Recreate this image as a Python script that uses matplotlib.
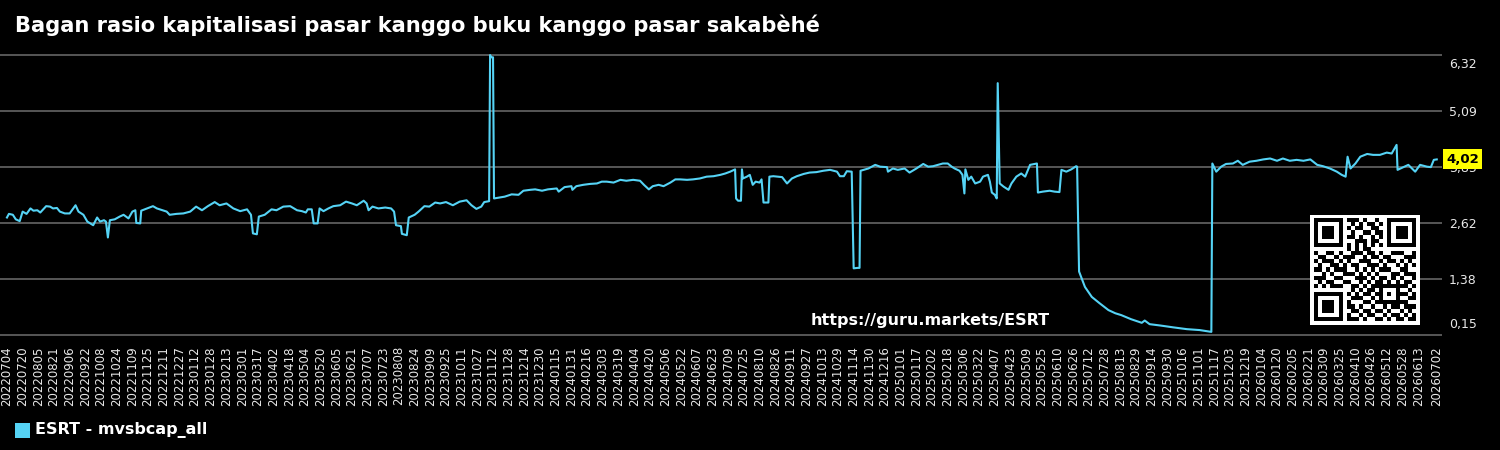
# Market cap to book ratio chart (ESRT) - recreation
import numpy as np
import pandas as pd
import matplotlib
matplotlib.use("Agg")
import matplotlib.pyplot as plt
import matplotlib.transforms as mtransforms
from matplotlib.patches import Rectangle

# --- data ---
start_date = pd.Timestamp("2022-07-04")
end_date = pd.Timestamp("2026-07-02")

# days since start_date
day_offset = [
    0, 2, 6, 9, 13, 16, 20, 24, 27, 31,
    34, 40, 44, 47, 51, 54, 59, 64, 70, 73,
    78, 82, 88, 92, 95, 99, 101, 103, 105, 110,
    115, 119, 124, 128, 131, 132, 136, 137, 143, 149,
    153, 160, 163, 166, 173, 180, 187, 193, 199, 205,
    212, 217, 224, 231, 238, 245, 249, 251, 255, 257,
    263, 270, 275, 282, 289, 296, 301, 305, 307, 311,
    313, 317, 319, 323, 328, 333, 340, 346, 352, 357,
    364, 367, 369, 373, 379, 386, 392, 395, 397, 402,
    403, 408, 410, 416, 420, 426, 431, 437, 442, 448,
    455, 462, 469, 474, 479, 484, 487, 492, 493, 494,
    496, 497, 508, 515, 522, 527, 534, 539, 546, 552,
    561, 563, 569, 576, 577, 581, 588, 595, 602, 607,
    612, 619, 626, 632, 639, 646, 650, 655, 659, 665,
    670, 677, 682, 687, 694, 700, 707, 714, 721, 728,
    733, 738, 743, 744, 746, 749, 750, 751, 755, 758,
    761, 764, 768, 770, 772, 777, 778, 782, 787, 791,
    796, 801, 806, 813, 819, 826, 833, 840, 847, 850,
    854, 857, 862, 864, 868, 870, 871, 879, 886, 891,
    898, 899, 904, 909, 916, 921, 928, 935, 940, 945,
    950, 955, 960, 964, 967, 972, 975, 977, 978, 981,
    984, 988, 993, 996, 1001, 1003, 1005, 1008, 1010, 1011,
    1013, 1017, 1022, 1025, 1030, 1035, 1039, 1044, 1051, 1052,
    1057, 1064, 1069, 1074, 1076, 1081, 1086, 1091, 1092, 1094,
    1100, 1107, 1115, 1124, 1131, 1137, 1147, 1158, 1161, 1166,
    1177, 1190, 1204, 1217, 1229, 1230, 1234, 1239, 1244, 1251,
    1256, 1261, 1268, 1275, 1282, 1289, 1296, 1302, 1309, 1316,
    1323, 1330, 1337, 1343, 1350, 1357, 1362, 1366, 1368, 1371,
    1376, 1381, 1388, 1394, 1401, 1408, 1413, 1418, 1419, 1425,
    1430, 1437, 1442, 1449, 1453, 1456, 1459,
]

mvsbcap_all = [
    2.74, 2.82, 2.80, 2.70, 2.66, 2.87, 2.82, 2.94, 2.89, 2.90,
    2.85, 2.99, 2.98, 2.94, 2.95, 2.87, 2.83, 2.83, 3.01, 2.87,
    2.80, 2.65, 2.57, 2.74, 2.65, 2.68, 2.65, 2.30, 2.68, 2.70,
    2.76, 2.80, 2.72, 2.87, 2.90, 2.62, 2.61, 2.89, 2.94, 2.99,
    2.94, 2.89, 2.87, 2.80, 2.82, 2.83, 2.87, 2.98, 2.90, 2.99,
    3.08, 3.01, 3.05, 2.94, 2.88, 2.92, 2.80, 2.39, 2.37, 2.76,
    2.80, 2.92, 2.90, 2.98, 2.99, 2.90, 2.88, 2.85, 2.92, 2.92,
    2.61, 2.61, 2.94, 2.88, 2.94, 2.99, 3.01, 3.09, 3.05, 3.01,
    3.11, 3.05, 2.90, 2.98, 2.94, 2.96, 2.94, 2.87, 2.57, 2.55,
    2.38, 2.35, 2.74, 2.80, 2.87, 2.99, 2.98, 3.07, 3.05, 3.08,
    3.01, 3.09, 3.12, 3.01, 2.93, 2.98, 3.08, 3.10, 6.32, 6.27,
    6.27, 3.16, 3.20, 3.25, 3.24, 3.33, 3.35, 3.36, 3.33, 3.36,
    3.38, 3.31, 3.41, 3.43, 3.35, 3.43, 3.46, 3.48, 3.49, 3.53,
    3.53, 3.51, 3.57, 3.55, 3.57, 3.55, 3.46, 3.36, 3.43, 3.46,
    3.43, 3.51, 3.58, 3.58, 3.57, 3.58, 3.60, 3.64, 3.65, 3.68,
    3.71, 3.75, 3.80, 3.16, 3.11, 3.11, 3.80, 3.60, 3.64, 3.68,
    3.46, 3.53, 3.51, 3.58, 3.07, 3.07, 3.64, 3.65, 3.64, 3.63,
    3.49, 3.60, 3.65, 3.70, 3.73, 3.74, 3.77, 3.79, 3.75, 3.65,
    3.65, 3.76, 3.75, 1.62, 1.63, 1.63, 3.77, 3.82, 3.90, 3.86,
    3.85, 3.75, 3.82, 3.79, 3.82, 3.73, 3.82, 3.92, 3.86, 3.87,
    3.90, 3.93, 3.93, 3.86, 3.82, 3.77, 3.68, 3.27, 3.80, 3.57,
    3.64, 3.49, 3.53, 3.64, 3.68, 3.53, 3.29, 3.24, 3.16, 5.70,
    3.49, 3.42, 3.35, 3.49, 3.64, 3.71, 3.64, 3.90, 3.93, 3.29,
    3.31, 3.33, 3.31, 3.30, 3.79, 3.75, 3.80, 3.87, 3.86, 1.55,
    1.21, 0.99, 0.85, 0.70, 0.63, 0.59, 0.50, 0.42, 0.47, 0.39,
    0.36, 0.32, 0.28, 0.26, 0.22, 3.93, 3.75, 3.86, 3.92, 3.93,
    3.99, 3.90, 3.97, 3.99, 4.02, 4.04, 3.99, 4.04, 3.99, 4.01,
    3.99, 4.02, 3.90, 3.87, 3.82, 3.75, 3.68, 3.64, 4.08, 3.82,
    3.93, 4.08, 4.14, 4.12, 4.12, 4.17, 4.15, 4.34, 3.79, 3.85,
    3.90, 3.75, 3.90, 3.86, 3.85, 4.01, 4.02,
]

ytick_values = [0.15, 1.384, 2.618, 3.852, 5.086, 6.32]
last_value = 4.02

title = "Bagan rasio kapitalisasi pasar kanggo buku kanggo pasar sakabèhé"
series_name = "ESRT - mvsbcap_all"
site_url = "https://guru.markets/ESRT"

# QR-like module pattern (data area only, function patterns are added below)
qr_rows = [
    "1011010011101001011010110",
    "0110111001010110100101101",
    "1101001110110011010110010",
    "0011100101001101101001111",
    "1100101011010010110111000",
    "0101110100111011001010011",
    "1010011011000101110101101",
    "0111010110101100011010110",
    "1001101001110110100111001",
    "0110010111001011011000111",
    "1011101010011100101101010",
    "0100110101100111010010101",
    "1101011100101010111001100",
    "0010100111010101000110111",
    "1110011000111010110101001",
    "0101101110010101101010110",
    "1010110001101011010101101",
    "0111001101010110101100010",
    "1000111010101101010011101",
    "0110010101110010111010011",
    "1101101010001101101101100",
    "0010110111010010010110111",
    "1011001001101101101001010",
    "0100111110010110010110101",
    "1101010011101001101011011",
]

line_color = "#55d3f5"
grid_color = "#5e5e5e"
text_color = "#e8e8e8"

# --- figure ---
fig = plt.figure(figsize=(15, 4.5), dpi=100, facecolor="black")
ax = fig.add_axes([0.0, 0.2524, 0.9613, 0.6334])
ax.set_facecolor("black")

dates = start_date + pd.to_timedelta(day_offset, unit="D")
ax.plot(dates, mvsbcap_all, color=line_color, lw=1.5, zorder=3)

ax.set_xlim(start_date - pd.Timedelta(days=7.1), start_date + pd.Timedelta(days=1464.3))
ax.set_ylim(0.12, 6.40)

for s in ax.spines.values():
    s.set_visible(False)

# y axis on the right
ax.yaxis.tick_right()
ax.set_yticks(ytick_values)
ax.set_yticklabels([f"{v:.2f}".replace(".", ",") for v in ytick_values])
ax.tick_params(axis="y", length=0, pad=5, labelsize=9, labelcolor=text_color)
ylabels = ax.get_yticklabels()
# end labels sit inside the range, like the original
ylabels[0].set_va("bottom")
ylabels[0].set_transform(ylabels[0].get_transform() +
                         mtransforms.ScaledTranslation(0, 3 / 72, fig.dpi_scale_trans))
ylabels[-1].set_va("top")
ylabels[-1].set_transform(ylabels[-1].get_transform() +
                          mtransforms.ScaledTranslation(0, -2.5 / 72, fig.dpi_scale_trans))
ax.grid(axis="y", color=grid_color, lw=1.3)
ax.set_axisbelow(True)

# x ticks every 16 days, plus the last date
tick_dates = list(pd.date_range(start_date, end_date, freq="16D"))
if (end_date - tick_dates[-1]).days < 8:
    tick_dates = tick_dates[:-1]
tick_dates.append(end_date)
ax.set_xticks(tick_dates)
ax.set_xticklabels([d.strftime("%Y%m%d") for d in tick_dates], rotation=90)
ax.tick_params(axis="x", length=0, pad=7, labelsize=8.5, labelcolor=text_color)

# last value marker
ax.text(1.003, last_value, f"{last_value:.2f}".replace(".", ","),
        transform=ax.get_yaxis_transform(), ha="left", va="center",
        fontsize=9.5, fontweight="bold", color="black", zorder=10,
        bbox=dict(facecolor="#ffff00", edgecolor="none", pad=2.5))

# title, watermark, legend
fig.text(0.01, 0.944, title, color="white", fontsize=15.1, fontweight="bold",
         ha="left", va="center")
fig.text(811 / 1500, 1 - 320 / 450, site_url, color="white", fontsize=11.5,
         fontweight="bold", ha="left", va="center")
fig.patches.append(Rectangle((15 / 1500, 1 - 438 / 450), 15 / 1500, 15 / 450,
                             transform=fig.transFigure, facecolor=line_color,
                             edgecolor="none"))
fig.text(35 / 1500, 1 - 430.5 / 450, series_name, color="white", fontsize=11.5,
         fontweight="bold", ha="left", va="center")

# QR code block
qr = np.array([[int(c) for c in r.ljust(25, "0")[:25]] for r in qr_rows])
n = qr.shape[0]


def put_finder(m, r0, c0):
    m[max(r0 - 1, 0):r0 + 8, max(c0 - 1, 0):c0 + 8] = 0
    m[r0:r0 + 7, c0:c0 + 7] = 1
    m[r0 + 1:r0 + 6, c0 + 1:c0 + 6] = 0
    m[r0 + 2:r0 + 5, c0 + 2:c0 + 5] = 1


put_finder(qr, 0, 0)
put_finder(qr, 0, n - 7)
put_finder(qr, n - 7, 0)
qr[6, 8:n - 8] = [(i + 1) % 2 for i in range(n - 16)]
qr[8:n - 8, 6] = [(i + 1) % 2 for i in range(n - 16)]
qr[16:21, 16:21] = 1
qr[17:20, 17:20] = 0
qr[18, 18] = 1
qr = np.pad(qr, 1)

ax_qr = fig.add_axes([1310 / 1500, 1 - 325 / 450, 110 / 1500, 110 / 450])
ax_qr.imshow(qr, cmap="gray_r", interpolation="nearest", vmin=0, vmax=1,
             aspect="auto")
ax_qr.axis("off")

fig.savefig("out.png", dpi=100, facecolor="black")
